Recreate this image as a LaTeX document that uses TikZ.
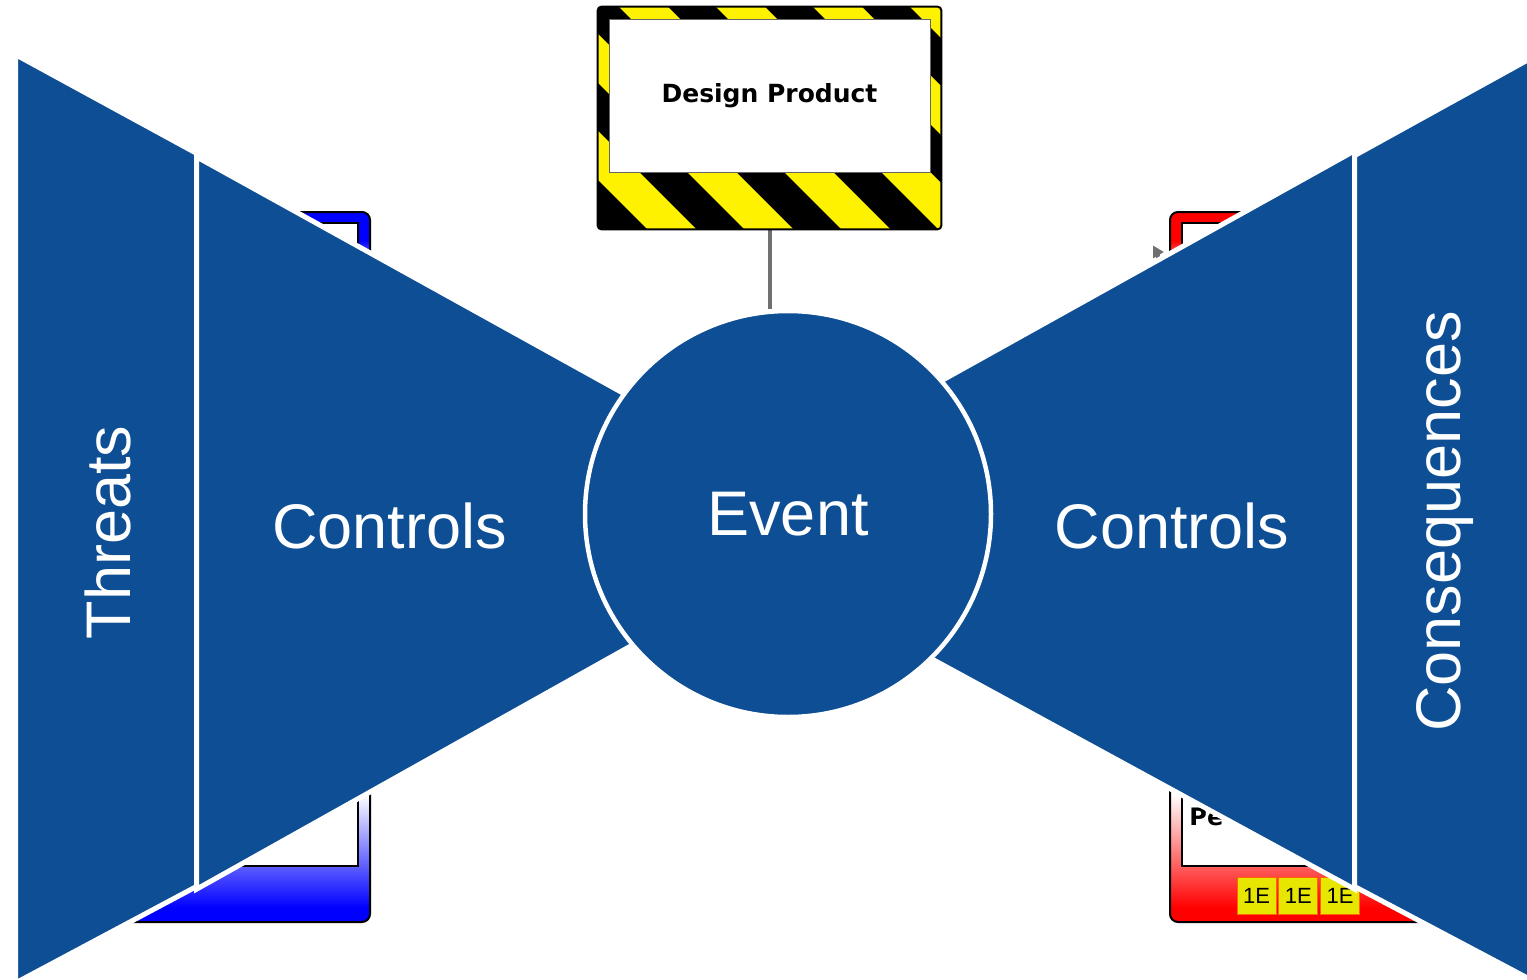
\documentclass[tikz,border=0pt]{standalone}
\usepackage{fontspec}
\setmainfont{Liberation Sans}
\newfontfamily\signfont{DejaVu Sans}
\usetikzlibrary{positioning,arrows.meta,backgrounds}

\definecolor{bowblue}{RGB}{14,78,148}
\definecolor{linkgray}{RGB}{112,112,112}
\definecolor{barrieryellow}{RGB}{230,230,0}

\pgfdeclareverticalshading{bluebar}{100bp}{color(0bp)=(blue); color(26bp)=(blue); color(34bp)=(white); color(70bp)=(white); color(73bp)=(blue); color(100bp)=(blue)}
\pgfdeclareverticalshading{redbar}{100bp}{color(0bp)=(red); color(26bp)=(red); color(34bp)=(white); color(70bp)=(white); color(73bp)=(red); color(100bp)=(red)}

\begin{document}
\begin{tikzpicture}[x=0.5pt, y=-0.5pt]
  \tikzset{
    panel/.style={fill=bowblue, draw=white, line width=2.5pt},
    bigtext/.style={text=white, font=\fontsize{31.5pt}{38pt}\selectfont},
    bar/.style={draw=black, line width=1pt, rounded corners=4pt, minimum width=#1, minimum height=355pt, inner sep=0},
    card/.style={fill=white, draw=black, line width=1pt, minimum width=#1, minimum height=321.5pt, inner sep=0},
    ebox/.style={fill=barrieryellow, draw=orange!80!red, line width=0.4pt, minimum width=19.5pt, minimum height=18.5pt, inner sep=0, font=\fontsize{11pt}{13pt}\selectfont},
    signframe/.style={fill=black, rounded corners=2pt, minimum width=171.5pt, minimum height=111pt, inner sep=0},
    hazardbox/.style={fill=white, draw=black!60, line width=0.5pt, minimum width=160.5pt, minimum height=76.5pt, inner sep=0, font=\signfont\bfseries\fontsize{12.5pt}{14pt}\selectfont},
    link/.style={draw=linkgray, line width=2pt}
  }
  \useasboundingbox (0,0) rectangle (1527,980);
  \clip (0,0) rectangle (1527,980);

  % threat side, behind the bow
  \node[bar=135pt, shading=bluebar] (leftbar) at (235,567) {};
  \node[card=124pt] (leftcard) at (234,544.5) {};

  % consequence side, behind the bow
  \node[bar=140pt, shading=redbar] (rightbar) at (1310,567) {};
  \node[card=129pt] (rightcard) at (1311,544.5) {};
  \node[anchor=north west, inner sep=0, font=\signfont\bfseries\fontsize{12pt}{14pt}\selectfont] (rightname) at (1189,808) {Pe};
  \node[ebox] (e1) at (1256.5,895.5) {1E};
  \node[ebox, right=1pt of e1] (e2) {1E};
  \node[ebox, right=1pt of e2] (e3) {1E};

  % bow tie
  \draw[panel] (15.5,54.6) -- (196.5,153.3) -- (196.5,886.5) -- (15.5,983) -- cycle;
  \draw[panel] (196.5,156.8) -- (854,521) -- (196.5,889.2) -- cycle;
  \draw[panel] (1354.5,150.8) -- (684,524) -- (1354.5,889.1) -- cycle;
  \draw[panel] (1354.5,155.6) -- (1540,53.2) -- (1540,984.6) -- (1354.5,886.5) -- cycle;

  \node[circle, fill=bowblue, draw=white, line width=2.25pt, minimum size=203pt, inner sep=0, bigtext] (event) at (788,514) {Event};

  \node[bigtext, anchor=base] (lcontrols) at (389.5,548) {Controls};
  \node[bigtext, anchor=base] (rcontrols) at (1172,548) {Controls};
  \node[bigtext, anchor=base, rotate=90] (threats) at (130,532.5) {Threats};
  \node[bigtext, anchor=base, rotate=90] (consequences) at (1460,521.5) {Consequences};

  % hazard sign
  \node[signframe] (sign) at (769.5,118) {};
  \begin{scope}
    \clip[rounded corners=2pt] (sign.north west) rectangle (sign.south east);
    \foreach \k in {3,...,9}
      \fill[yellow] ({30+97*\k},0) -- ++(49,0) -- ++(240,240) -- ++(-49,0) -- cycle;
  \end{scope}
  \draw[black, line width=1pt, rounded corners=2pt] (sign.north west) rectangle (sign.south east);
  \node[hazardbox] (hazard) at (769.5,95.5) {Design Product};

  \coordinate (bend) at (1158,252);
  \begin{scope}[on background layer]
    \draw[link] (sign.south) -- (sign.south |- event.north);
    \draw[link, -{Triangle[length=5.5pt, width=6pt]}] (event) -| (bend) -- ([xshift=-2.5pt]rightbar.west |- bend);
  \end{scope}
\end{tikzpicture}
\end{document}
